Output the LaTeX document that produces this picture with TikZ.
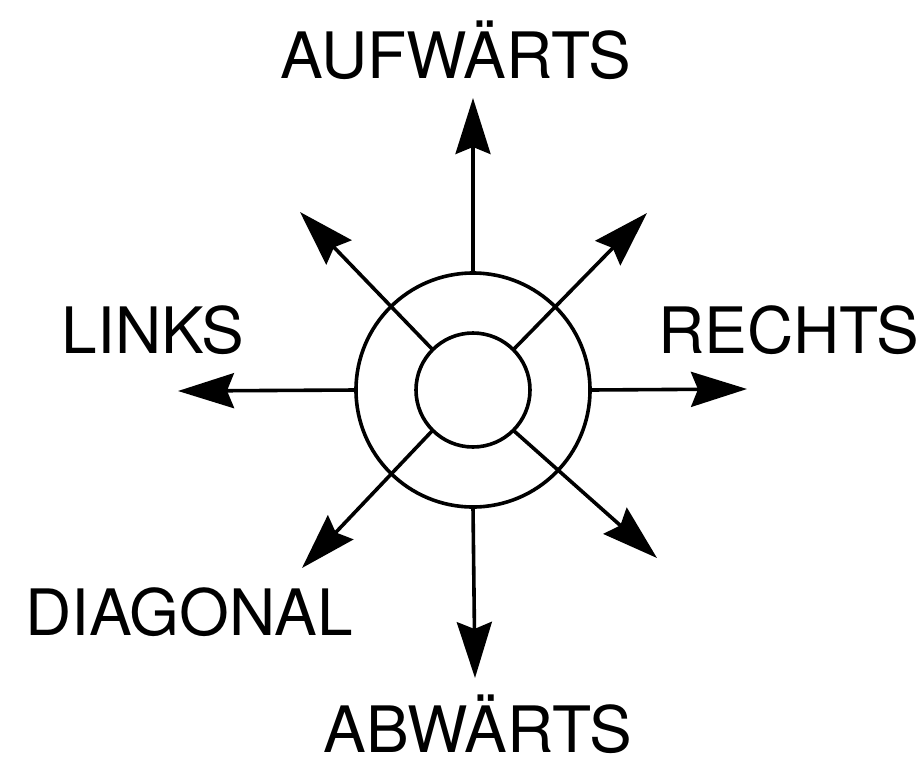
\documentclass[tikz,border=0pt]{standalone}
\usepackage{fontspec}
\setmainfont{TeX Gyre Heros}
\usetikzlibrary{arrows.meta}
\begin{document}
\begin{tikzpicture}[x=1pt,y=-1pt,
  ring/.style={draw, circle, line width=3.6pt, inner sep=0pt, outer sep=0pt},
  ray/.style={line width=3.6pt, -{Stealth[length=56pt,width=35pt,inset=7pt]}},
  lab/.style={anchor=base, inner sep=0pt, font=\fontsize{64}{64}\selectfont}]
\useasboundingbox (0,0) rectangle (919,756);
\node[ring, minimum size=234pt] (outer) at (473,390) {};
\node[ring, minimum size=114pt] (inner) at (473,390) {};
\coordinate (up) at (473,98);
\coordinate (down) at (475,678);
\coordinate (left) at (178,391);
\coordinate (right) at (747,389);
\coordinate (nw) at (300,212);
\coordinate (ne) at (647,213);
\coordinate (sw) at (302,568);
\coordinate (se) at (657,558);
\draw[ray] (outer.north) -- (up);
\draw[ray] (outer.south) -- (down);
\draw[ray] (outer.west) -- (left);
\draw[ray] (outer.east) -- (right);
\draw[ray] (inner.135) -- (nw);
\draw[ray] (inner.45) -- (ne);
\draw[ray] (inner.225) -- (sw);
\draw[ray] (inner.-45) -- (se);
\node[lab] (tup) at (456,78) {AUFWÄRTS};
\node[lab] (tleft) at (153,353) {LINKS};
\node[lab] (tright) at (789,353) {RECHTS};
\node[lab] (tdiag) at (189,635) {DIAGONAL};
\node[lab] (tdown) at (478,752) {ABWÄRTS};
\end{tikzpicture}
\end{document}
